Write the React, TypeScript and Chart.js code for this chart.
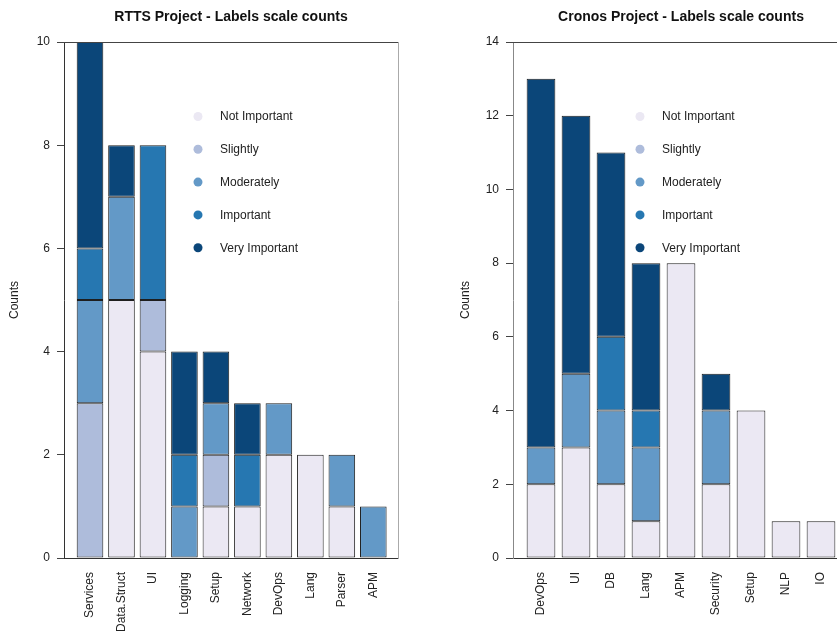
import React, { useEffect, useRef } from 'react';
import { Chart, registerables } from 'chart.js';

Chart.register(...registerables);
Chart.defaults.font.family = "'Liberation Sans', Arial, Helvetica, sans-serif";

const levels = ['Not Important', 'Slightly', 'Moderately', 'Important', 'Very Important'];
const levelColors = ['#ebe8f3', '#aebcdb', '#6399c7', '#2677b1', '#0b4679'];

const rttsCategories = ['Services', 'Data.Struct', 'UI', 'Logging', 'Setup', 'Network', 'DevOps', 'Lang', 'Parser', 'APM'];
const rttsNotImportant = [0, 5, 4, 0, 1, 1, 2, 2, 1, 0];
const rttsSlightly = [3, 0, 1, 0, 1, 0, 0, 0, 0, 0];
const rttsModerately = [2, 2, 0, 1, 1, 0, 1, 0, 1, 1];
const rttsImportant = [1, 0, 3, 1, 0, 1, 0, 0, 0, 0];
const rttsVeryImportant = [4, 1, 0, 2, 1, 1, 0, 0, 0, 0];

const cronosCategories = ['DevOps', 'UI', 'DB', 'Lang', 'APM', 'Security', 'Setup', 'NLP', 'IO'];
const cronosNotImportant = [2, 3, 2, 1, 8, 2, 4, 1, 1];
const cronosSlightly = [0, 0, 0, 0, 0, 0, 0, 0, 0];
const cronosModerately = [1, 2, 2, 2, 0, 2, 0, 0, 0];
const cronosImportant = [0, 0, 2, 1, 0, 0, 0, 0, 0];
const cronosVeryImportant = [10, 7, 5, 4, 0, 1, 0, 0, 0];

const rttsTicksMax = 10;
const cronosTicksMax = 14;

type PanelCfg = {
  title: string;
  categories: string[];
  series: number[][];
  yMax: number;
  xMin: number;
  xMax: number;
  barPct: number;
  yWidth: number;
  padRight: number;
  titlePad: number;
  yBorderColor: string;
  rightBorder: boolean;
  legendX: number;
};

function makeChart(canvas: HTMLCanvasElement, cfg: PanelCfg) {
  const datasets = levels.map((lab, k) => ({
    label: lab,
    data: cfg.categories.map((_, i) => ({ x: i, y: cfg.series[k][i] === 0 ? null : cfg.series[k][i] })),
    backgroundColor: levelColors[k],
    borderColor: '#1e1e1e',
    borderWidth: 1,
    borderSkipped: false,
    barPercentage: cfg.barPct,
    categoryPercentage: 1,
  }));

  const decor = {
    id: 'decor',
    afterDraw(chart: any) {
      const { ctx, chartArea } = chart;
      const { left, right, top } = chartArea;
      ctx.save();
      ctx.strokeStyle = '#444444';
      ctx.lineWidth = 1;
      ctx.beginPath();
      ctx.moveTo(left, top + 0.5);
      ctx.lineTo(right + 1, top + 0.5);
      ctx.stroke();
      if (cfg.rightBorder) {
        ctx.strokeStyle = '#aaaaaa';
        ctx.beginPath();
        ctx.moveTo(right + 0.5, top);
        ctx.lineTo(right + 0.5, chartArea.bottom + 1);
        ctx.stroke();
      }
      ctx.fillStyle = '#111111';
      ctx.font = "bold 14px 'Liberation Sans', Arial, sans-serif";
      ctx.textAlign = 'center';
      ctx.textBaseline = 'alphabetic';
      ctx.fillText(cfg.title, (left + right) / 2, 20.5);
      ctx.font = "12px 'Liberation Sans', Arial, sans-serif";
      ctx.textAlign = 'left';
      ctx.textBaseline = 'middle';
      levels.forEach((lab, i) => {
        const y = top + 74.5 + i * 32.8;
        ctx.fillStyle = levelColors[i];
        ctx.beginPath();
        ctx.arc(cfg.legendX, y, 4.5, 0, Math.PI * 2);
        ctx.fill();
        ctx.fillStyle = '#222222';
        ctx.fillText(lab, cfg.legendX + 22, y + 0.5);
      });
      ctx.restore();
    },
  };

  return new Chart(canvas, {
    type: 'bar',
    data: { datasets: datasets as any },
    plugins: [decor],
    options: {
      animation: false,
      responsive: false,
      maintainAspectRatio: false,
      layout: { padding: { top: 42, right: cfg.padRight, left: 0, bottom: 0 } },
      plugins: { legend: { display: false }, tooltip: { enabled: false }, title: { display: false } },
      scales: {
        x: {
          type: 'linear',
          stacked: true,
          offset: false,
          min: cfg.xMin,
          max: cfg.xMax,
          afterBuildTicks: (s: any) => {
            s.ticks = cfg.categories.map((_, i) => ({ value: i }));
          },
          afterFit: (s: any) => {
            s.height = 76;
          },
          grid: { display: true, offset: false, drawOnChartArea: false, drawTicks: false },
          border: { display: true, color: '#333333', width: 1 },
          ticks: {
            autoSkip: false,
            minRotation: 90,
            maxRotation: 90,
            padding: 14,
            color: '#222222',
            font: { size: 12 },
            callback: (v: any) => cfg.categories[v] ?? '',
          },
        },
        y: {
          stacked: true,
          min: 0,
          max: cfg.yMax,
          afterFit: (s: any) => {
            s.width = cfg.yWidth;
          },
          ticks: { stepSize: 2, padding: 7, color: '#222222', font: { size: 12 } },
          grid: { display: true, drawOnChartArea: false, drawTicks: true, tickLength: 7, color: '#444444' },
          border: { display: true, color: cfg.yBorderColor, width: 1 },
          title: {
            display: true,
            text: 'Counts',
            color: '#222222',
            font: { size: 12 },
            padding: { top: cfg.titlePad, bottom: 0 },
          },
        },
      },
    } as any,
  });
}

export default function App() {
  const leftRef = useRef<HTMLCanvasElement>(null);
  const rightRef = useRef<HTMLCanvasElement>(null);

  useEffect(() => {
    const c1 = makeChart(leftRef.current!, {
      title: 'RTTS Project - Labels scale counts',
      categories: rttsCategories,
      series: [rttsNotImportant, rttsSlightly, rttsModerately, rttsImportant, rttsVeryImportant],
      yMax: rttsTicksMax,
      xMin: -0.826,
      xMax: 9.784,
      barPct: 0.845,
      yWidth: 64,
      padRight: 20,
      titlePad: 7,
      yBorderColor: '#333333',
      rightBorder: true,
      legendX: 198,
    });
    const c2 = makeChart(rightRef.current!, {
      title: 'Cronos Project - Labels scale counts',
      categories: cronosCategories,
      series: [cronosNotImportant, cronosSlightly, cronosModerately, cronosImportant, cronosVeryImportant],
      yMax: cronosTicksMax,
      xMin: -0.8,
      xMax: 8.8,
      barPct: 0.82,
      yWidth: 65,
      padRight: 19,
      titlePad: 10,
      yBorderColor: '#888888',
      rightBorder: false,
      legendX: 192,
    });
    return () => {
      c1.destroy();
      c2.destroy();
    };
  }, []);

  return (
    <div style={{ position: 'absolute', left: 0, top: 0, width: 837, height: 634, overflow: 'hidden', background: '#ffffff' }}>
      <canvas ref={leftRef} width={418} height={634} style={{ position: 'absolute', left: 0, top: 0 }} />
      <canvas ref={rightRef} width={420} height={634} style={{ position: 'absolute', left: 448, top: 0 }} />
    </div>
  );
}
